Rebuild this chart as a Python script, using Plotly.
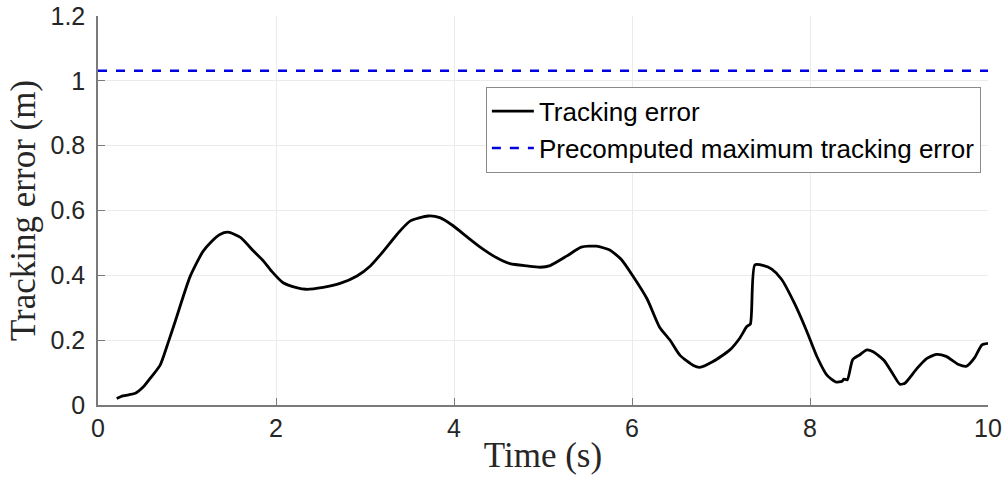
import plotly.graph_objects as go

time_s = [0.21, 0.28, 0.42, 0.51, 0.60, 0.70, 0.79, 0.87, 0.94, 1.03, 1.11, 1.18, 1.26, 1.37, 1.46,
          1.60, 1.75, 1.86, 1.95, 2.08, 2.23, 2.34, 2.53, 2.72, 2.91, 3.06, 3.19, 3.39, 3.51, 3.71,
          3.84, 3.99, 4.14, 4.29, 4.48, 4.63, 4.82, 4.97, 5.08, 5.27, 5.43, 5.60, 5.75, 5.88, 6.01,
          6.17, 6.31, 6.43, 6.54, 6.69, 6.76, 6.91, 7.10, 7.21, 7.29, 7.33, 7.38, 7.48, 7.57, 7.68,
          7.83, 7.96, 8.08, 8.19, 8.29, 8.36, 8.38, 8.42, 8.48, 8.56, 8.64, 8.71, 8.83, 8.94, 9.01,
          9.07, 9.20, 9.31, 9.42, 9.53, 9.67, 9.76, 9.85, 9.93, 10.0]
tracking_error = [0.020, 0.028, 0.036, 0.056, 0.087, 0.124, 0.194, 0.260, 0.320, 0.393, 0.439, 0.474, 0.500, 0.526, 0.533,
                  0.517, 0.474, 0.444, 0.413, 0.377, 0.362, 0.357, 0.363, 0.375, 0.398, 0.429, 0.469, 0.536, 0.568, 0.583,
                  0.578, 0.553, 0.520, 0.488, 0.454, 0.436, 0.429, 0.425, 0.430, 0.460, 0.487, 0.490, 0.478, 0.449, 0.398,
                  0.327, 0.240, 0.199, 0.153, 0.122, 0.116, 0.134, 0.170, 0.206, 0.242, 0.250, 0.432, 0.430, 0.419, 0.388,
                  0.311, 0.230, 0.148, 0.092, 0.071, 0.073, 0.080, 0.078, 0.140, 0.155, 0.170, 0.164, 0.138, 0.092, 0.064,
                  0.068, 0.112, 0.143, 0.156, 0.150, 0.125, 0.120, 0.146, 0.185, 0.190]
max_error = 1.031
x_range = [0, 10]
y_range = [0, 1.2000001]
x_ticks = [0, 2, 4, 6, 8, 10]
y_ticks = [0, 0.2, 0.4, 0.6, 0.8, 1, 1.2]
y_tick_labels = ["0", "0.2", "0.4", "0.6", "0.8", "1", "1.2"]

fig = go.Figure()
fig.add_trace(go.Scatter(x=time_s, y=tracking_error, mode="lines", name="Tracking error",
                         line=dict(color="black", width=2.8, shape="spline", smoothing=0.6)))
fig.add_trace(go.Scatter(x=x_range, y=[max_error, max_error], mode="lines",
                         name="Precomputed maximum tracking error",
                         line=dict(color="#0000e0", width=2.5, dash="dash")))

axis_common = dict(showgrid=True, gridcolor="#ebebeb", gridwidth=1, zeroline=False,
                   showline=True, linecolor="#7a7a7a", linewidth=1.5,
                   ticks="inside", ticklen=7, tickcolor="#7a7a7a", tickwidth=1,
                   ticklabeloverflow="allow",
                   tickfont=dict(family="Liberation Sans, Arial", size=25, color="#262626"))

title_font = dict(family="Liberation Serif, Times New Roman", size=35, color="#262626")

fig.update_xaxes(range=x_range, tickvals=x_ticks, ticktext=[str(t) for t in x_ticks],
                 title=dict(text="Time (s)", font=title_font, standoff=2),
                 **axis_common)
fig.update_yaxes(range=y_range, tickvals=y_ticks, ticktext=y_tick_labels,
                 ticklabelstandoff=6,
                 title=dict(text="Tracking error (m)", font=title_font, standoff=4),
                 **axis_common)

fig.update_layout(
    width=1004, height=485,
    margin=dict(l=98, r=16, t=16, b=80, autoexpand=False),
    plot_bgcolor="white", paper_bgcolor="white",
    legend=dict(x=0.992, y=0.818, xanchor="right", yanchor="top",
                bgcolor="white", bordercolor="#8a8a8a", borderwidth=1,
                font=dict(family="Liberation Sans, Arial", size=26, color="black"),
                itemwidth=42, tracegroupgap=0),
    showlegend=True,
)

fig.write_html("out.html", config={"displayModeBar": False},
               post_script="document.body.style.margin='0';document.body.style.overflow='hidden';")
